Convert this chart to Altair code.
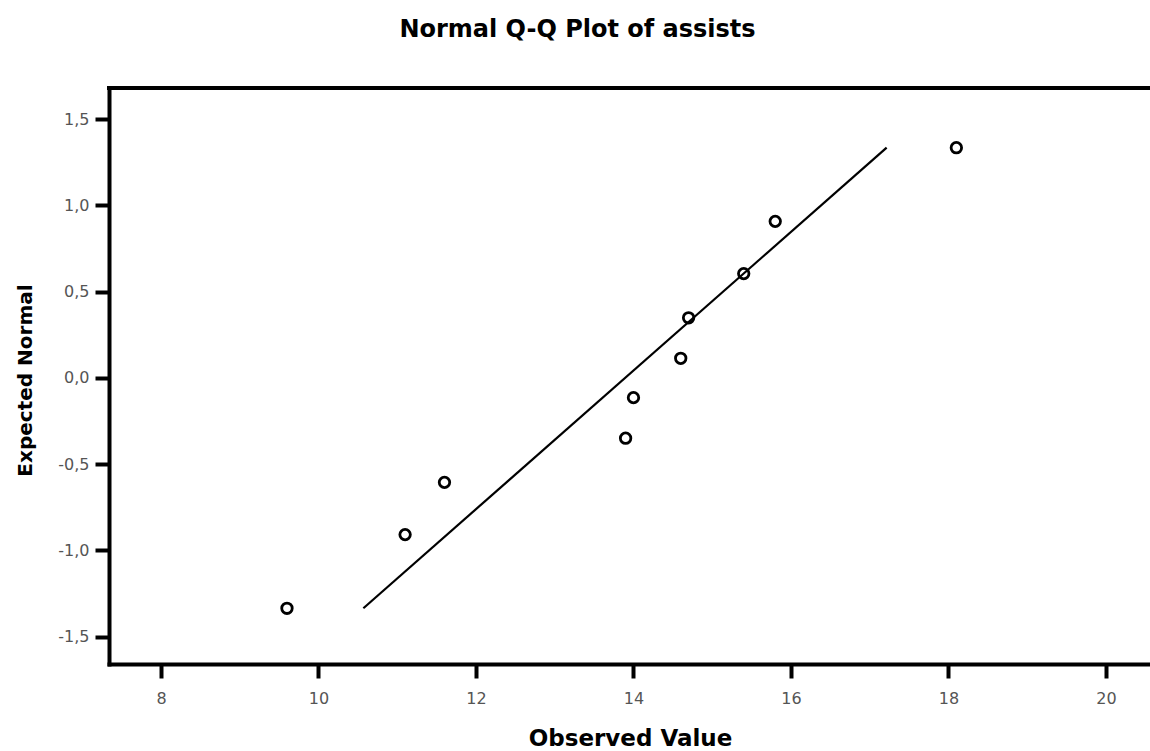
import altair as alt
import pandas as pd

# Observed values (sorted) and their expected normal quantiles
observed = [9.6, 11.1, 11.6, 13.9, 14.0, 14.6, 14.7, 15.4, 15.8, 18.1]
expected = [-1.335, -0.908, -0.605, -0.349, -0.114, 0.114, 0.349, 0.605, 0.908, 1.335]

# Reference line end points
line_x = [10.57, 17.215]
line_y = [-1.335, 1.335]

x_ticks = [8, 10, 12, 14, 16, 18, 20]
y_ticks = [-1.5, -1.0, -0.5, 0.0, 0.5, 1.0, 1.5]

W, H = 1041, 576

pts = pd.DataFrame({"obs": observed, "exp": expected})
ref = pd.DataFrame({"obs": line_x, "exp": line_y})

x_scale = alt.Scale(domain=[7.34, 20.559], nice=False, zero=False)
y_scale = alt.Scale(domain=[-1.658, 1.681], nice=False, zero=False)

axis_common = dict(
    grid=False,
    domainColor="black",
    domainWidth=4,
    domainCap="square",
    tickColor="black",
    tickWidth=4,
    tickSize=14,
    labelFont="DejaVu Sans",
    labelFontSize=16,
    labelColor="#555555",
    titleFont="DejaVu Sans",
    titleFontWeight="bold",
    titleColor="black",
)

x_axis = alt.Axis(
    values=x_ticks,
    format="d",
    labelPadding=12,
    title="Observed Value",
    titleFontSize=23,
    titleX=521,
    titleY=74,
    titleAlign="center",
    titleBaseline="middle",
    **axis_common,
)

y_axis = alt.Axis(
    values=y_ticks,
    labelExpr="replace(replace(format(datum.value, '.1f'), '.', ','), '\u2212', '-')",
    labelPadding=6,
    title="Expected Normal",
    titleFontSize=20,
    titleX=-84,
    titleY=292,
    titleAngle=-90,
    titleAlign="center",
    titleBaseline="middle",
    **axis_common,
)

line = alt.Chart(ref).mark_line(color="black", strokeWidth=2.2).encode(
    x=alt.X("obs:Q", scale=x_scale, axis=x_axis),
    y=alt.Y("exp:Q", scale=y_scale, axis=y_axis),
)

points = alt.Chart(pts).mark_point(
    shape="circle", filled=False, color="black", size=110, strokeWidth=2.8, opacity=1
).encode(
    x=alt.X("obs:Q", scale=x_scale),
    y=alt.Y("exp:Q", scale=y_scale),
)

# top edge of the plot frame
top_edge = alt.Chart(pts).mark_rule(color="black", strokeWidth=4, strokeCap="square").encode(
    x=alt.value(0), x2=alt.value(W), y=alt.value(0)
)

chart = (
    alt.layer(line, points, top_edge)
    .properties(
        width=W,
        height=H,
        padding={"left": 109, "top": 88, "right": 0, "bottom": 87},
        autosize=alt.AutoSizeParams(type="none"),
        title=alt.Title(
            "Normal Q-Q Plot of assists",
            font="DejaVu Sans",
            fontSize=24,
            fontWeight="bold",
            color="black",
            anchor="middle",
            dx=-52,
            offset=24,
            baseline="alphabetic",
        ),
    )
    .configure_view(stroke=None, fill="#efefef")
    .configure(background="white")
)

chart.save("out.html", embed_options={"renderer": "svg", "actions": False})
